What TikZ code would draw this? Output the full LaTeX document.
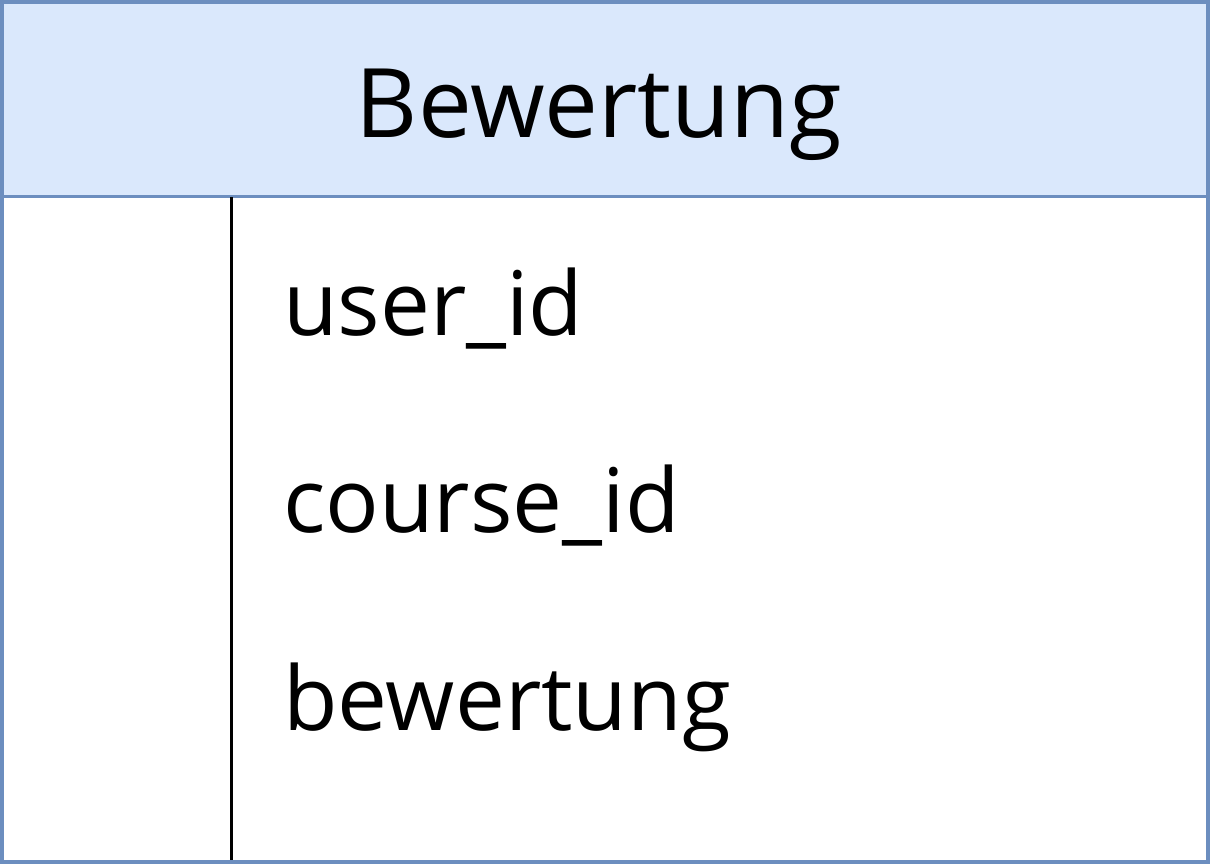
\documentclass[tikz,border=0pt]{standalone}
\usepackage{fontspec}
\setmainfont{Open Sans}
\definecolor{hdrfill}{HTML}{DAE8FC}
\definecolor{hdrline}{HTML}{6C8EBF}
\tikzset{
  field/.style={anchor=base west, inner sep=0pt, font=\fontsize{89}{100}\selectfont},
  title/.style={anchor=base, inner sep=0pt, font=\fontsize{96}{110}\selectfont}
}
\begin{document}
\begin{tikzpicture}[x=1pt,y=-1pt]
\useasboundingbox (0,0) rectangle (1210,864);
\fill[hdrfill] (2,2) rectangle (1208,196);
\draw[hdrline, line width=3pt] (2,196) -- (1208,196);
\draw[black, line width=3pt] (231,197) -- (231,864);
\draw[hdrline, line width=4pt] (2,2) rectangle (1208,862);
\node[title] (t) at (599,138) {Bewertung};
\node[field] (f1) at (283,335) {user\_id};
\node[field] (f2) at (283,532) {course\_id};
\node[field] (f3) at (283,730) {bewertung};
\end{tikzpicture}
\end{document}
